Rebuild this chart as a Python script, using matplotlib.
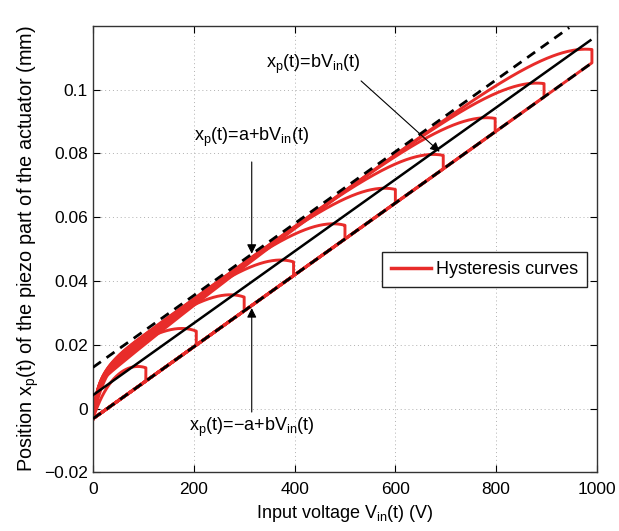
import numpy as np
import matplotlib.pyplot as plt

plt.rcParams['font.family'] = ['Liberation Sans', 'DejaVu Sans']
plt.rcParams['mathtext.fontset'] = 'custom'
plt.rcParams['mathtext.rm'] = 'Liberation Sans'
plt.rcParams['mathtext.it'] = 'Liberation Sans:italic'

# Daten
x_ticks = [0, 200, 400, 600, 800, 1000]
y_ticks = [-0.02, 0, 0.02, 0.04, 0.06, 0.08, 0.1]
y_tick_labels = ['\u22120.02', '0', '0.02', '0.04', '0.06', '0.08', '0.1']

slope_b = 1.127e-4        # b (mm/V)
offset = 0.0042           # Achsenabschnitt der Mittellinie
a_up = 0.0087             # +a
a_lo = 0.0074             # -a
line_end_v = [987, 945, 990]          # Ende der Linien: mitte, oben, unten
loop_amplitudes = [105, 205, 300, 398, 500, 600, 695, 798, 895, 990]

red = '#e82c2a'


def hysterese(vmax, n=500):
    # aufsteigender Ast: von -a nach oben (kleine Schleifen langsamer),
    # dann langsam gegen +a, kurz vor vmax wieder zur Mitte
    v1 = 40 * (100 / vmax) ** 0.8
    v2 = 0.3 * vmax
    h1 = 0.0085 - 0.006 * vmax / 1000
    w = 60 + 0.03 * vmax
    d = a_up + 0.003
    v_up = np.linspace(0, vmax, n)
    r1 = 1 - np.exp(-v_up / v1)
    r2 = 1 - np.exp(-v_up / v2)
    h = -a_lo + (a_lo + h1) * r1 + (a_up - h1) * r2 - d * np.exp((v_up - vmax) / w) * r1
    x_up = offset + slope_b * v_up + h
    # absteigender Ast entlang x = -a + bV
    v_down = np.linspace(vmax, 0, n)
    x_down = offset - a_lo + slope_b * v_down
    return np.concatenate([v_up, v_down]), np.concatenate([x_up, x_down])


fig = plt.figure(figsize=(6.19, 5.31), dpi=100)
ax = fig.add_axes([0.1502, 0.1105, 0.8142, 0.841])

# Hysteresekurven
for i, vm in enumerate(loop_amplitudes):
    v, x = hysterese(vm)
    ax.plot(v, x, color=red, lw=2.1, label='Hysteresis curves' if i == 0 else None, zorder=2)

# Geraden
v_mid = np.array([0, line_end_v[0]])
v_top = np.array([0, line_end_v[1]])
v_bot = np.array([0, line_end_v[2]])
ax.plot(v_mid, offset + slope_b * v_mid, color='k', lw=1.8, zorder=3)
ax.plot(v_top, offset + a_up + slope_b * v_top, color='k', lw=2.0, dashes=(3.5, 2.5), zorder=3)
ax.plot(v_bot, offset - a_lo + slope_b * v_bot, color='k', lw=2.0, dashes=(3.5, 2.5), zorder=3)

ax.set_xlim(0, 1000)
ax.set_ylim(-0.02, 0.12)
ax.set_xticks(x_ticks)
ax.set_yticks(y_ticks)
ax.set_yticklabels(y_tick_labels)
ax.tick_params(direction='in', top=True, right=True, labelsize=12.5, length=5, width=0.8)
ax.tick_params(axis='x', pad=7)
ax.grid(True, color='#b0b0b0', linestyle=(0, (1, 3)), lw=0.7)
for s in ax.spines.values():
    s.set_linewidth(1.0)
    s.set_color('#333333')

ax.set_xlabel(r'Input voltage V$_\mathregular{in}$(t) (V)', fontsize=13, labelpad=4)
ax.set_ylabel(r'Position x$_\mathregular{p}$(t) of the piezo part of the actuator (mm)', fontsize=14.3,
              labelpad=2)

# Beschriftungen mit Pfeilen
arrow = dict(arrowstyle='-|>', color='k', lw=0.8, mutation_scale=14, shrinkA=0, shrinkB=0)
ax.annotate('', xy=(688, 0.0805), xytext=(532, 0.1027), arrowprops=arrow)
ax.annotate('', xy=(315, 0.0485), xytext=(315, 0.0773), arrowprops=arrow)
ax.annotate('', xy=(315, 0.0315), xytext=(315, -0.0011), arrowprops=arrow)
ax.text(343, 0.108, r'x$_\mathregular{p}$(t)=bV$_\mathregular{in}$(t)', fontsize=13, va='center')
ax.text(200, 0.085, r'x$_\mathregular{p}$(t)=a+bV$_\mathregular{in}$(t)', fontsize=13, va='center')
ax.text(190, -0.0058, 'x$_\\mathregular{p}$(t)=\u2212a+bV$_\\mathregular{in}$(t)', fontsize=13, va='center')

leg = ax.legend(loc='lower left', bbox_to_anchor=(0.573, 0.415), fontsize=13, fancybox=False,
                edgecolor='#222222', handlelength=2.2, borderpad=0.5, handletextpad=0.3,
                borderaxespad=0, framealpha=1)
leg.get_frame().set_linewidth(1.0)
for line in leg.get_lines():
    line.set_linewidth(2.5)

fig.savefig('out.png', dpi=100)
